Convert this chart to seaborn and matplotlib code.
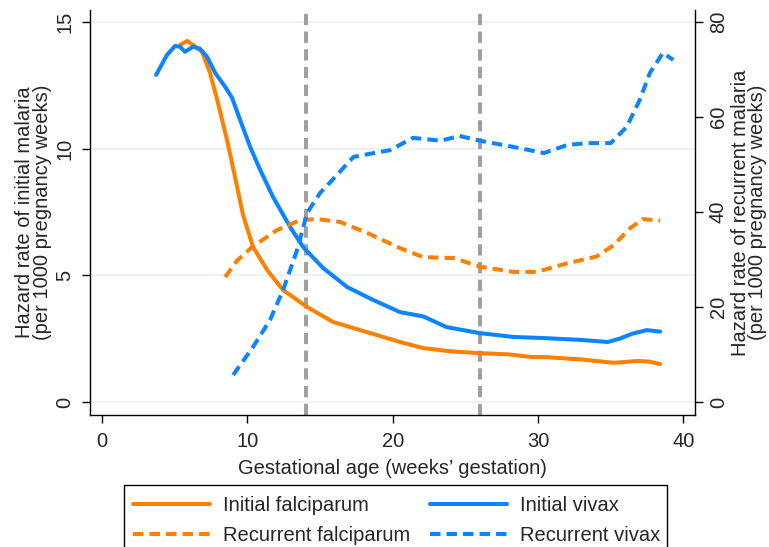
import pandas as pd
import matplotlib.pyplot as plt
import seaborn as sns
import numpy as np
from matplotlib.lines import Line2D
from matplotlib.patches import Rectangle

# Values (weeks' gestation, hazard per 1000 pregnancy weeks)
weeks_if = [5.37, 5.85, 6.26, 6.88, 7.43, 7.98, 8.6, 9.15, 9.7, 10.39, 11.36, 12.46, 14.11, 15.9, 17.76,
            19.34, 20.5, 22.1, 24.0, 26.0, 28.0, 29.5, 30.6, 33.0, 35.2, 36.8, 37.6, 38.4]
rate_if = [14.09, 14.25, 14.09, 13.82, 12.99, 11.8, 10.34, 8.88, 7.38, 6.12, 5.21, 4.42, 3.75, 3.16, 2.84,
           2.57, 2.37, 2.13, 2.0, 1.93, 1.88, 1.78, 1.77, 1.68, 1.55, 1.62, 1.6, 1.5]

weeks_iv = [3.72, 4.47, 5.02, 5.37, 5.71, 6.26, 6.74, 7.23, 7.78, 8.47, 8.95, 9.5, 10.19, 10.88, 11.77,
            12.94, 13.83, 15.21, 16.86, 18.65, 20.5, 22.1, 23.7, 26.0, 28.3, 30.6, 33.0, 34.8, 35.6,
            36.5, 37.5, 38.4]
rate_iv = [12.91, 13.7, 14.05, 14.02, 13.82, 14.02, 13.94, 13.62, 12.99, 12.44, 12.0, 11.13, 10.07, 9.16, 8.09,
           6.91, 6.12, 5.29, 4.54, 4.03, 3.55, 3.38, 2.96, 2.72, 2.57, 2.52, 2.45, 2.37, 2.5,
           2.7, 2.84, 2.78]

weeks_rf = [8.47, 9.3, 10.32, 12.04, 13.63, 14.8, 16.38, 18.24, 20.5, 22.1, 24.2, 26.0, 28.3, 29.9,
            32.0, 34.0, 35.2, 36.3, 37.2, 38.4]
rate_rf = [26.3, 29.8, 32.6, 36.2, 38.3, 38.5, 37.9, 35.6, 32.4, 30.5, 30.3, 28.5, 27.4, 27.4,
           29.2, 30.6, 33.0, 36.5, 38.5, 38.2]

weeks_rv = [9.02, 10.39, 11.56, 12.46, 13.42, 14.11, 15.0, 15.83, 17.3, 18.7, 19.8, 21.4, 23.3, 24.6,
            26.0, 28.3, 30.4, 32.0, 33.4, 35.0, 36.1, 37.0, 37.7, 38.6, 39.3]
rate_rv = [5.7, 11.6, 17.3, 23.6, 32.0, 39.8, 44.0, 46.7, 51.6, 52.4, 53.0, 55.6, 55.0, 56.0,
           55.0, 53.7, 52.4, 54.1, 54.5, 54.5, 57.9, 63.6, 69.3, 73.5, 72.0]

trimester_cuts = [14, 26]

orange = '#FF8000'
blue = '#0A84FF'
fs = 14.5

sns.set_style('white')
plt.rcParams['font.family'] = ['Liberation Sans', 'DejaVu Sans']
plt.rcParams['font.size'] = fs

fig = plt.figure(figsize=(7.69, 5.47), dpi=100)
ax = fig.add_axes([90/769, 1 - 415/547, 605/769, 405/547])
ax2 = ax.twinx()

lw = 2.9
dash = (2.6, 1.5)
for g in [0, 5, 10, 15]:
    ax.axhline(g, color='#EAF1F3', lw=1.2, zorder=0)

for c in trimester_cuts:
    ax.axvline(c, color='#A0A0A0', lw=2.9, dashes=(2.8, 1.6), zorder=1)

sns.lineplot(x=weeks_if, y=rate_if, ax=ax, color=orange, lw=lw, zorder=3)
sns.lineplot(x=weeks_iv, y=rate_iv, ax=ax, color=blue, lw=lw, zorder=3)
sns.lineplot(x=weeks_rf, y=rate_rf, ax=ax2, color=orange, lw=lw, zorder=3)
sns.lineplot(x=weeks_rv, y=rate_rv, ax=ax2, color=blue, lw=lw, zorder=3)
for l in ax2.get_lines():
    l.set_dashes(dash)
for l in ax.get_lines() + ax2.get_lines():
    l.set_solid_capstyle('round')

ylo, yhi = -0.51, 15.47
ax.set_xlim(-0.83, 40.8)
ax.set_ylim(ylo, yhi)
ax2.set_ylim(ylo * 80 / 15, yhi * 80 / 15)

ax.set_xticks([0, 10, 20, 30, 40])
ax.set_yticks([0, 5, 10, 15])
ax2.set_yticks([0, 20, 40, 60, 80])
for lab in ax.get_yticklabels() + ax2.get_yticklabels():
    lab.set_rotation(90)
    lab.set_va('center')

for a in (ax, ax2):
    a.spines['top'].set_visible(False)
    for s in ['left', 'bottom', 'right']:
        a.spines[s].set_color('black')
        a.spines[s].set_linewidth(1.0)
    a.tick_params(direction='out', length=6, width=1, color='black', labelsize=fs, pad=5)
ax.spines['right'].set_visible(False)
ax2.spines['left'].set_visible(False)
ax2.spines['bottom'].set_visible(False)
ax.tick_params(axis='y', left=True, right=False)
ax.tick_params(axis='x', bottom=True, pad=6)
ax2.tick_params(axis='y', right=True, left=False, pad=4)

ax.set_xlabel("Gestational age (weeks\u2019 gestation)", fontsize=fs, labelpad=6)
ax.set_ylabel("Hazard rate of initial malaria\n(per 1000 pregnancy weeks)", fontsize=fs, labelpad=3,
              linespacing=0.9)
ax2.set_ylabel("Hazard rate of recurrent malaria\n(per 1000 pregnancy weeks)", fontsize=fs, labelpad=2,
               linespacing=0.9)

handles = [
    Line2D([], [], color=orange, lw=lw),
    Line2D([], [], color=orange, lw=lw, dashes=dash),
    Line2D([], [], color=blue, lw=lw),
    Line2D([], [], color=blue, lw=lw, dashes=dash),
]
labels = ['Initial falciparum', 'Recurrent falciparum', 'Initial vivax', 'Recurrent vivax']
leg = fig.legend(handles, labels, ncol=2, loc='upper left',
                 bbox_to_anchor=(133/769, 1 - 496/547), frameon=False,
                 fontsize=fs, handlelength=3.8, handletextpad=0.65,
                 columnspacing=1.0, labelspacing=0.55, borderpad=0, borderaxespad=0)

# legend box, cut by the bottom edge as in the original
fig.patches.append(Rectangle((124/769, -0.1), (667 - 124)/769, (1 - 485/547) + 0.1,
                             transform=fig.transFigure, fill=False, ec='black', lw=1.0))

fig.savefig('out.png', dpi=100)
